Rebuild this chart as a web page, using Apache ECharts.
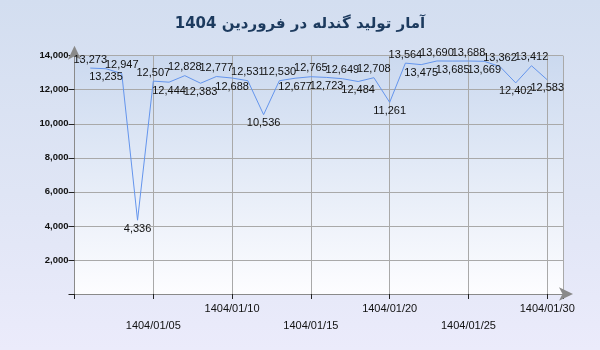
<!DOCTYPE html>
<html><head><meta charset="utf-8">
<script src="https://cdn.jsdelivr.net/npm/echarts@6/dist/echarts.min.js"></script>
<style>
html,body{margin:0;padding:0;}
#c{width:600px;height:350px;background:linear-gradient(to bottom,#d3def0 0%,#dfe5f5 55%,#ebebfb 100%);}
</style>
</head><body><div id="c"></div>
<script>
// ---- data ----
const titleText = 'آمار تولید گندله در فروردین 1404';
const days = [1,2,3,4,5,6,7,8,9,10,11,12,13,14,15,16,17,18,19,20,21,22,23,24,25,26,27,28,29,30];
const production = [13273,13235,12947,4336,12507,12444,12828,12383,12777,12688,12531,10536,12530,12677,12765,12723,12649,12484,12708,11261,13564,13475,13690,13685,13688,13669,13362,12402,13412,12583];
const xTickDays = [5,10,15,20,25,30];
const xTickLabels = ['1404/01/05','1404/01/10','1404/01/15','1404/01/20','1404/01/25','1404/01/30'];
const yTickValues = [0,2000,4000,6000,8000,10000,12000,14000];

// ---- chart ----
const chart = echarts.init(document.getElementById('c'), null, {renderer:'canvas'});
const fmt = v => v.toLocaleString('en-US');

const seriesData = days.map((d,i) => {
  const v = production[i];
  const prev = i>0 ? production[i-1] : Infinity;
  const next = i<production.length-1 ? production[i+1] : Infinity;
  const isMin = v < prev && v < next;
  const below = isMin || d % 2 === 0;
  return {value:[d,v], label:{position: below ? 'bottom' : 'top'}};
});

chart.setOption({
  animation:false,
  backgroundColor:'transparent',
  title:{
    text:titleText, left:'center', top:12,
    textStyle:{fontFamily:'DejaVu Sans', fontSize:15, fontWeight:'bold', color:'#1c3a5e',
      textShadowColor:'rgba(120,120,120,0.55)', textShadowOffsetX:2, textShadowOffsetY:2, textShadowBlur:0}
  },
  grid:{left:74.5, top:55.7, right:37, bottom:56, show:true, borderWidth:0, outerBoundsMode:'none',
    backgroundColor:{type:'linear',x:0,y:0,x2:0,y2:1,colorStops:[{offset:0,color:'#cbd9ef'},{offset:1,color:'#fdfdff'}]}},
  xAxis:{
    type:'value', min:0, max:31, interval:5,
    axisLine:{show:true, lineStyle:{color:'#8a8a8a', width:1}, symbol:['none','arrow'], symbolSize:[10,14], symbolOffset:[0,10]},
    axisTick:{show:true, length:5, lineStyle:{color:'#222'}},
    splitLine:{show:true, lineStyle:{color:'#a9a9a9', width:1}},
    axisLabel:{
      margin:6, fontFamily:'Liberation Sans', fontSize:11, color:'#111', lineHeight:17,
      formatter:v => { const k = xTickDays.indexOf(v); if(k<0) return ''; return (v%10===5 ? '\n' : '') + xTickLabels[k]; }
    }
  },
  yAxis:{
    type:'value', min:0, max:14000, interval:2000,
    axisLine:{show:true, lineStyle:{color:'#8a8a8a', width:1}, symbol:['none','arrow'], symbolSize:[10,14], symbolOffset:[0,10]},
    axisTick:{show:true, length:6, lineStyle:{color:'#222'}},
    splitLine:{show:true, lineStyle:{color:'#a9a9a9', width:1}},
    axisLabel:{margin:6, fontFamily:'Liberation Sans', fontSize:9.5, fontWeight:'bold', color:'#111',
      formatter:v => (yTickValues.indexOf(v)>0 ? fmt(v) : '')}
  },
  series:[{
    type:'line', data:seriesData, showSymbol:true, showAllSymbol:true, symbol:'circle', symbolSize:2,
    itemStyle:{color:'rgba(100,149,237,0)', borderWidth:0},
    lineStyle:{color:'#6495ed', width:1},
    label:{show:true, distance:2, fontFamily:'Liberation Sans', fontSize:11, color:'#111', opacity:1,
      formatter:p => fmt(p.value[1])},
    labelLayout:{hideOverlap:false}
  }]
});
</script>
</body></html>
